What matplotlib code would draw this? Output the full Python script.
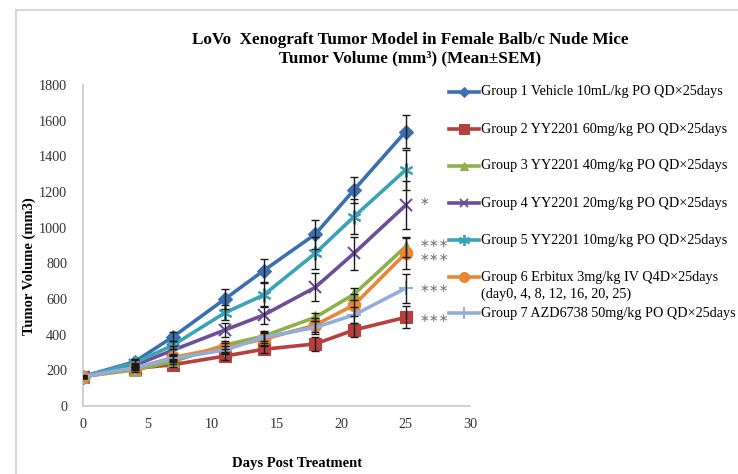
import matplotlib
matplotlib.use("Agg")
import matplotlib.pyplot as plt
from matplotlib.lines import Line2D

plt.rcParams['font.family'] = ['Liberation Serif', 'DejaVu Serif']

days = [0, 4, 7, 11, 14, 18, 21, 25]

g1 = [165, 248, 389, 600, 759, 963, 1211, 1538]
g2 = [165, 210, 232, 280, 318, 348, 426, 497]
g3 = [165, 202, 250, 342, 392, 497, 626, 893]
g4 = [165, 228, 314, 426, 510, 665, 856, 1125]
g5 = [165, 242, 342, 523, 622, 856, 1061, 1323]
g6 = [165, 211, 273, 329, 374, 454, 566, 856]
g7 = [165, 215, 267, 314, 385, 441, 510, 660]

e1 = [8, 15, 25, 54, 64, 80, 75, 94]
e2 = [6, 10, 12, 20, 22, 41, 40, 62]
e3 = [6, 10, 14, 25, 30, 22, 34, 56]
e4 = [6, 12, 20, 41, 50, 78, 94, 135]
e5 = [6, 14, 24, 41, 69, 90, 97, 112]
e6 = [6, 10, 14, 25, 37, 40, 60, 88]
e7 = [6, 10, 14, 22, 30, 35, 45, 80]

labels = [
    "Group 1 Vehicle 10mL/kg PO QD\u00d725days",
    "Group 2 YY2201 60mg/kg PO QD\u00d725days",
    "Group 3 YY2201 40mg/kg PO QD\u00d725days",
    "Group 4 YY2201 20mg/kg PO QD\u00d725days",
    "Group 5 YY2201 10mg/kg PO QD\u00d725days",
    "Group 6 Erbitux 3mg/kg IV Q4D\u00d725days\n(day0, 4, 8, 12, 16, 20, 25)",
    "Group 7 AZD6738 50mg/kg PO QD\u00d725days",
]
stars = ["", "\u2217\u2217\u2217", "\u2217\u2217\u2217", "\u2217", "", "\u2217\u2217\u2217", "\u2217\u2217\u2217"]
star_dy = [0, -1, 2, 3, 0, -3, 0]

means = [g1, g2, g3, g4, g5, g6, g7]
sems = [e1, e2, e3, e4, e5, e6, e7]
colors = ["#3C6FAD", "#B5403D", "#8DB14B", "#6C4F97", "#3BA3B8", "#EA8637", "#91AEDA"]
markers = ["D", "s", "^", "x", (6, 2, 0), "o", "+"]
msizes = [7, 9, 8, 8, 10, 9, 10]


def edge_width(m):
    return 1.5 if m in ("x", "+") or isinstance(m, tuple) else 0.8


fig = plt.figure(figsize=(7.38, 4.74), dpi=100)
W, H = 738, 474
ax = fig.add_axes([83 / W, 1 - 406 / H, (470 - 83) / W, (406 - 85) / H])

for i in range(7):
    ax.errorbar(days, means[i], yerr=sems[i], fmt='none', ecolor='#1a1a1a',
                elinewidth=1.0, capsize=3, capthick=1.0, zorder=4)
for i in range(7):
    ax.plot(days, means[i], color=colors[i], lw=2.6, marker=markers[i],
            markersize=msizes[i], markeredgewidth=edge_width(markers[i]),
            markeredgecolor=colors[i], zorder=3)
    if stars[i]:
        ax.annotate(stars[i], xy=(days[-1], means[i][-1]), xytext=(10, star_dy[i]),
                    textcoords='offset points', ha='left', va='center',
                    fontsize=8.5, color='#7a7a7a', family='DejaVu Sans', zorder=5)

ax.set_xlim(0, 30)
ax.set_ylim(0, 1800)
ax.set_xticks(range(0, 31, 5))
ax.set_yticks(range(0, 1801, 200))
ax.tick_params(length=0, labelsize=10.2, labelcolor='#333333')
ax.tick_params(axis='y', pad=11.5)
ax.tick_params(axis='x', pad=9)
for s in ('top', 'right'):
    ax.spines[s].set_visible(False)
for s in ('left', 'bottom'):
    ax.spines[s].set_color('#c8c8c8')
    ax.spines[s].set_linewidth(1.2)
ax.set_facecolor('none')

fig.text(410 / W, 1 - 40 / H, "LoVo  Xenograft Tumor Model in Female Balb/c Nude Mice",
         ha='center', va='center', fontsize=12.3, fontweight='bold')
fig.text(410 / W, 1 - 58 / H, "Tumor Volume (mm\u00b3) (Mean\u00b1SEM)",
         ha='center', va='center', fontsize=12.3, fontweight='bold')
fig.text(29 / W, 1 - 266 / H, "Tumor Volume (mm3)", rotation=90,
         ha='center', va='center', fontsize=10.5, fontweight='bold')
fig.text(297 / W, 1 - 463 / H, "Days Post Treatment",
         ha='center', va='center', fontsize=10.5, fontweight='bold')

# legend entries beside the plot
leg_y = [92, 129, 166, 203, 240, 277, 313]
for i in range(7):
    y = 1 - leg_y[i] / H
    fig.add_artist(Line2D([449 / W, 479 / W], [y, y], color=colors[i], lw=2.6))
    fig.add_artist(Line2D([464 / W], [y], color=colors[i], lw=0, marker=markers[i],
                          markersize=msizes[i] * 0.8, markeredgecolor=colors[i],
                          markeredgewidth=edge_width(markers[i]) * 0.9))
    lines = labels[i].split("\n")
    fig.text(481 / W, y, lines[0], ha='left', va='center', fontsize=10.2)
    if len(lines) > 1:
        fig.text(481 / W, y - 17 / H, lines[1], ha='left', va='center', fontsize=10.2)

# thin frame at the top and left edge
fig.add_artist(Line2D([16 / W, 1], [1 - 10 / H, 1 - 10 / H], color='#d0d0d0', lw=1.2))
fig.add_artist(Line2D([16 / W, 16 / W], [0, 1 - 10 / H], color='#d0d0d0', lw=1.2))

fig.savefig("out.png", dpi=100)
